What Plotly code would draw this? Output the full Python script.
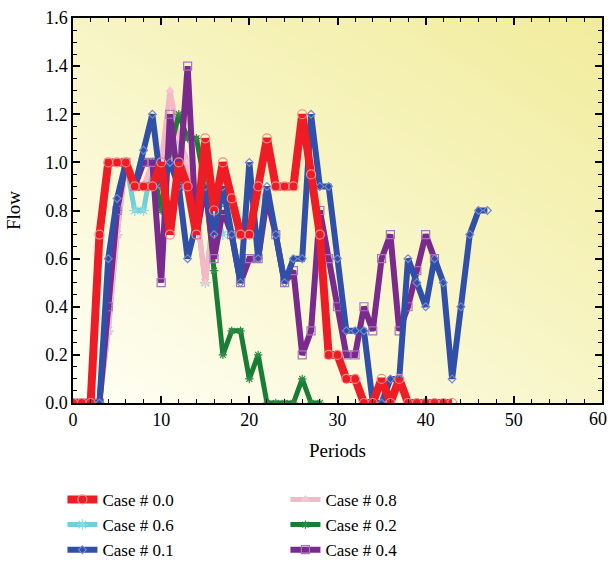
import plotly.graph_objects as go

# ---- data ----
periods_red = list(range(0, 44))
flow_red = [0, 0, 0, 0.7, 1.0, 1.0, 1.0, 0.9, 0.9, 0.9, 1.0, 0.7, 1.0, 0.9, 0.7, 1.1,
            0.8, 1.0, 0.85, 0.7, 0.7, 0.9, 1.1, 0.9, 0.9, 0.9, 1.2, 0.95, 0.7, 0.2, 0.2,
            0.1, 0.1, 0.0, 0.0, 0.1, 0.0, 0.1, 0.0, 0, 0, 0, 0, 0]

periods_blue = list(range(0, 48))
flow_blue = [0, 0, 0, 0, 0.6, 0.85, 1.0, 0.9, 1.05, 1.2, 0.9, 1.0, 0.9, 0.6, 0.75,
             0.9, 0.7, 0.9, 0.7, 0.5, 1.0, 0.6, 0.9, 0.7, 0.5, 0.6, 0.6, 1.2, 0.9, 0.9,
             0.6, 0.3, 0.3, 0.3, 0.0, 0.0, 0.1, 0.1, 0.6, 0.5, 0.4, 0.6, 0.5, 0.1, 0.4,
             0.7, 0.8, 0.8]

periods_purple = list(range(0, 42))
flow_purple = [0, 0, 0, 0, 0.4, 0.8, 1.0, 0.9, 1.0, 1.0, 0.5, 1.2, 0.9, 1.4, 0.7,
               0.9, 0.6, 0.8, 0.7, 0.5, 0.6, 0.6, 0.85, 0.7, 0.5, 0.55, 0.2, 0.3, 0.8,
               0.6, 0.4, 0.2, 0.2, 0.4, 0.3, 0.6, 0.7, 0.3, 0.4, 0.55, 0.7, 0.6]

periods_green = list(range(0, 29))
flow_green = [0, 0, 0, 0, 0.4, 0.8, 1.0, 0.9, 1.0, 1.0, 0.8, 1.05, 1.2, 1.1, 1.1,
              0.9, 0.55, 0.2, 0.3, 0.3, 0.1, 0.2, 0, 0, 0, 0, 0.1, 0, 0]

periods_cyan = list(range(0, 18))
flow_cyan = [0, 0, 0, 0, 0.3, 0.7, 1.0, 0.8, 0.8, 1.0, 0.9, 1.1, 1.1, 0.9, 0.8,
             0.5, 0.8, 0.7]

periods_pink = list(range(0, 17))
flow_pink = [0, 0, 0, 0, 0.3, 0.7, 1.0, 0.9, 0.9, 1.0, 1.0, 1.3, 1.1, 1.0, 0.8,
             0.5, 0.8]

x_ticks = [0, 10, 20, 30, 40, 50, 60]
y_ticks = [0.0, 0.2, 0.4, 0.6, 0.8, 1.0, 1.2, 1.4, 1.6]

FONT = "Liberation Serif"

fig = go.Figure()

# background gradient (pale yellow, strongest top-right)
fig.add_trace(go.Heatmap(
    x=[0, 60], y=[0, 1.6], z=[[0.0, 0.5], [0.55, 1.0]],
    zsmooth="best", showscale=False, hoverinfo="skip",
    colorscale=[[0, "#fffff6"], [1, "#f1ec9c"]], showlegend=False))

series = [
    # name, x, y, line color, width, marker symbol, marker color, size, rank
    ("Case # 0.6", periods_cyan, flow_cyan, "#6fd0dc", 5, "asterisk-open", "#8adbe4", 9, 3),
    ("Case # 0.8", periods_pink, flow_pink, "#f6b8c6", 5, "triangle-up", "#f8c6d2", 7, 2),
    ("Case # 0.2", periods_green, flow_green, "#1a7d36", 5, "asterisk-open", "#2b8a45", 7, 4),
    ("Case # 0.4", periods_purple, flow_purple, "#7a2a8c", 6, "square-open", "#a773bb", 8, 6),
    ("Case # 0.1", periods_blue, flow_blue, "#2f4fa8", 6, "diamond-open", "#7488cf", 6, 5),
    ("Case # 0.0", periods_red, flow_red, "#ee1c24", 8, "circle-open", "#f58a8a", 9, 1),
]

for name, xs, ys, col, w, sym, mcol, ms, rank in series:
    fig.add_trace(go.Scatter(
        x=xs, y=ys, name=name, mode="lines+markers",
        line=dict(color=col, width=w),
        marker=dict(symbol=sym, color=mcol, size=ms, line=dict(width=1.2, color=mcol)),
        legendrank=rank))

axis_common = dict(
    showline=True, linecolor="black", linewidth=1.5, mirror="allticks",
    ticks="inside", ticklen=7, tickwidth=1.5, tickcolor="black",
    showgrid=False, zeroline=False, automargin=False,
    tickfont=dict(family=FONT, size=18, color="black"),
)

fig.update_xaxes(range=[0, 60], tickvals=x_ticks,
                 minor=dict(dtick=2, ticks="inside", ticklen=4, tickwidth=1.2, tickcolor="black", showgrid=False),
                 title=dict(text="Periods", font=dict(family=FONT, size=19, color="black"), standoff=14),
                 **axis_common)
fig.update_yaxes(range=[0, 1.6], tickvals=y_ticks, tickformat=".1f",
                 minor=dict(dtick=0.05, ticks="inside", ticklen=4, tickwidth=1.2, tickcolor="black", showgrid=False),
                 title=dict(text="Flow", font=dict(family=FONT, size=19, color="black"), standoff=20),
                 **axis_common)

# last x tick label sits at the right figure edge (plotly drops it otherwise)
fig.add_annotation(x=1.0, xref="paper", y=0, yref="paper", yanchor="top", yshift=-4,
                   xanchor="right", xshift=7, text=str(x_ticks[-1]), showarrow=False,
                   font=dict(family=FONT, size=18, color="black"))

fig.update_layout(
    width=610, height=562,
    margin=dict(l=73, r=8, t=18, b=159, autoexpand=False),
    paper_bgcolor="white", plot_bgcolor="white",
    font=dict(family=FONT, size=18, color="black"),
    legend=dict(orientation="h", x=-0.02, xanchor="left", y=-0.205, yanchor="top",
                entrywidth=178, entrywidthmode="pixels",
                font=dict(family=FONT, size=17, color="black"),
                bgcolor="rgba(0,0,0,0)", tracegroupgap=0),
)

fig.write_html("out.html")
